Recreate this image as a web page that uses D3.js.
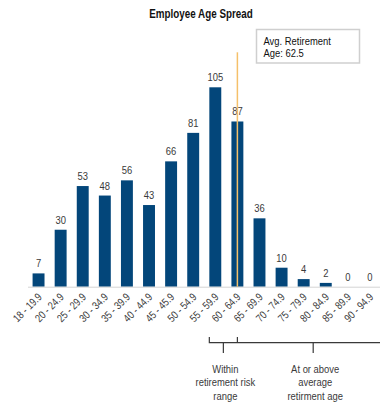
<!DOCTYPE html>
<html lang="en">
<head>
    <title>Employee Age Spread</title>
    <script src="https://cdn.jsdelivr.net/npm/d3@7"></script>
    <style>
        body { margin: 0; background: #fff; }
        text { font-family: "Liberation Sans", Arial, sans-serif; fill: #3a3a3a; }
    </style>
</head>
<body>
<script>
    var ageBands = ['18 - 19.9', '20 - 24.9', '25 - 29.9', '30 - 34.9', '35 - 39.9', '40 - 44.9',
        '45 - 45.9', '50 - 54.9', '55 - 59.9', '60 - 64.9', '65 - 69.9', '70 - 74.9',
        '75 - 79.9', '80 - 84.9', '85 - 89.9', '90 - 94.9']
    var headcount = [7, 30, 53, 48, 56, 43, 66, 81, 105, 87, 36, 10, 4, 2, 0, 0]
    var avgRetirementBand = '60 - 64.9'
    var noteText = ['Avg. Retirement', 'Age: 62.5']
    var riskText = ['Within', 'retirement risk', 'range']
    var aboveText = ['At or above', 'average', 'retirment age']

    var width = 380, height = 402
    var baseY = 286.7
    var squeeze = 0.82 // the original uses a narrow font; fake it

    var svg = d3.select('body').append('svg')
        .attr('width', width)
        .attr('height', height)

    var x = d3.scaleBand()
        .domain(ageBands)
        .range([27.5, 381])
        .paddingInner(0.46)
        .paddingOuter(0.23)

    var y = d3.scaleLinear()
        .domain([0, 105])
        .range([baseY, 87.3])

    var data = ageBands.map(function (b, i) { return { band: b, value: headcount[i] } })

    // narrow text helper
    function label(parent, px, py, str, size, anchor) {
        return parent.append('text')
            .attr('transform', 'translate(' + px + ',' + py + ') scale(' + squeeze + ',1)')
            .attr('text-anchor', anchor || 'middle')
            .style('font-size', size + 'px')
            .text(str)
    }

    // title
    label(svg, 201, 17.5, 'Employee Age Spread', 12, 'middle')
        .style('font-weight', 'bold')
        .style('fill', '#111')

    // bars
    svg.selectAll('rect.bar')
        .data(data)
        .enter()
        .append('rect')
        .attr('class', 'bar')
        .attr('x', function (d) { return x(d.band) })
        .attr('width', x.bandwidth())
        .attr('y', function (d) { return y(d.value) })
        .attr('height', function (d) { return baseY - y(d.value) })
        .attr('fill', '#03467a')

    // value labels
    data.forEach(function (d) {
        label(svg, x(d.band) + x.bandwidth() / 2, y(d.value) - 6, d.value, 11.5)
    })

    // x axis
    var axis = svg.append('g')
        .attr('transform', 'translate(0,' + baseY + ')')
        .call(d3.axisBottom(x).tickSize(0).tickPadding(0))
    axis.attr('font-family', null).attr('font-size', null)
    axis.select('.domain').attr('stroke', '#d4d4d4').attr('stroke-width', 1)
    axis.selectAll('text')
        .style('font-size', '11px')
        .attr('fill', '#3a3a3a')
        .attr('text-anchor', 'end')
        .attr('dy', 0)
        .attr('y', 0)
        .attr('transform', 'translate(4,11) rotate(-45) scale(' + squeeze + ',1)')

    // avg retirement line
    var lineX = x(avgRetirementBand) + x.bandwidth() / 2
    svg.append('line')
        .attr('x1', lineX).attr('x2', lineX)
        .attr('y1', 52.3).attr('y2', baseY)
        .attr('stroke', '#f5c06a')
        .attr('stroke-width', 1.5)

    // note box
    svg.append('rect')
        .attr('x', 256.5).attr('y', 29.5)
        .attr('width', 103).attr('height', 33.5)
        .attr('fill', '#fff')
        .attr('stroke', '#cfcfcf')
        .attr('stroke-width', 1.5)
    noteText.forEach(function (t, i) {
        label(svg, 263.5, 44.5 + i * 12, t, 11.5, 'start').style('fill', '#111')
    })

    // brackets
    var bx0 = x('55 - 59.9'), bx2 = 389
    var bMid1 = (bx0 + lineX) / 2, bMid2 = (lineX + bx2) / 2
    var br = svg.append('g').attr('stroke', '#3a3a3a').attr('stroke-width', 1.2).attr('fill', 'none')
    br.append('path').attr('d', 'M' + bx0 + ',337 V342.7 H' + bx2)
    br.append('path').attr('d', 'M' + lineX + ',337 V342.7')
    br.append('path').attr('d', 'M' + bMid1 + ',342.7 V353')
    br.append('path').attr('d', 'M' + bMid2 + ',342.7 V353')

    riskText.forEach(function (t, i) {
        label(svg, bMid1 + 2, 372.5 + i * 13.5, t, 11.5)
    })
    aboveText.forEach(function (t, i) {
        label(svg, bMid2 + 2, 372.5 + i * 13.5, t, 11.5)
    })
</script>
</body>
</html>
